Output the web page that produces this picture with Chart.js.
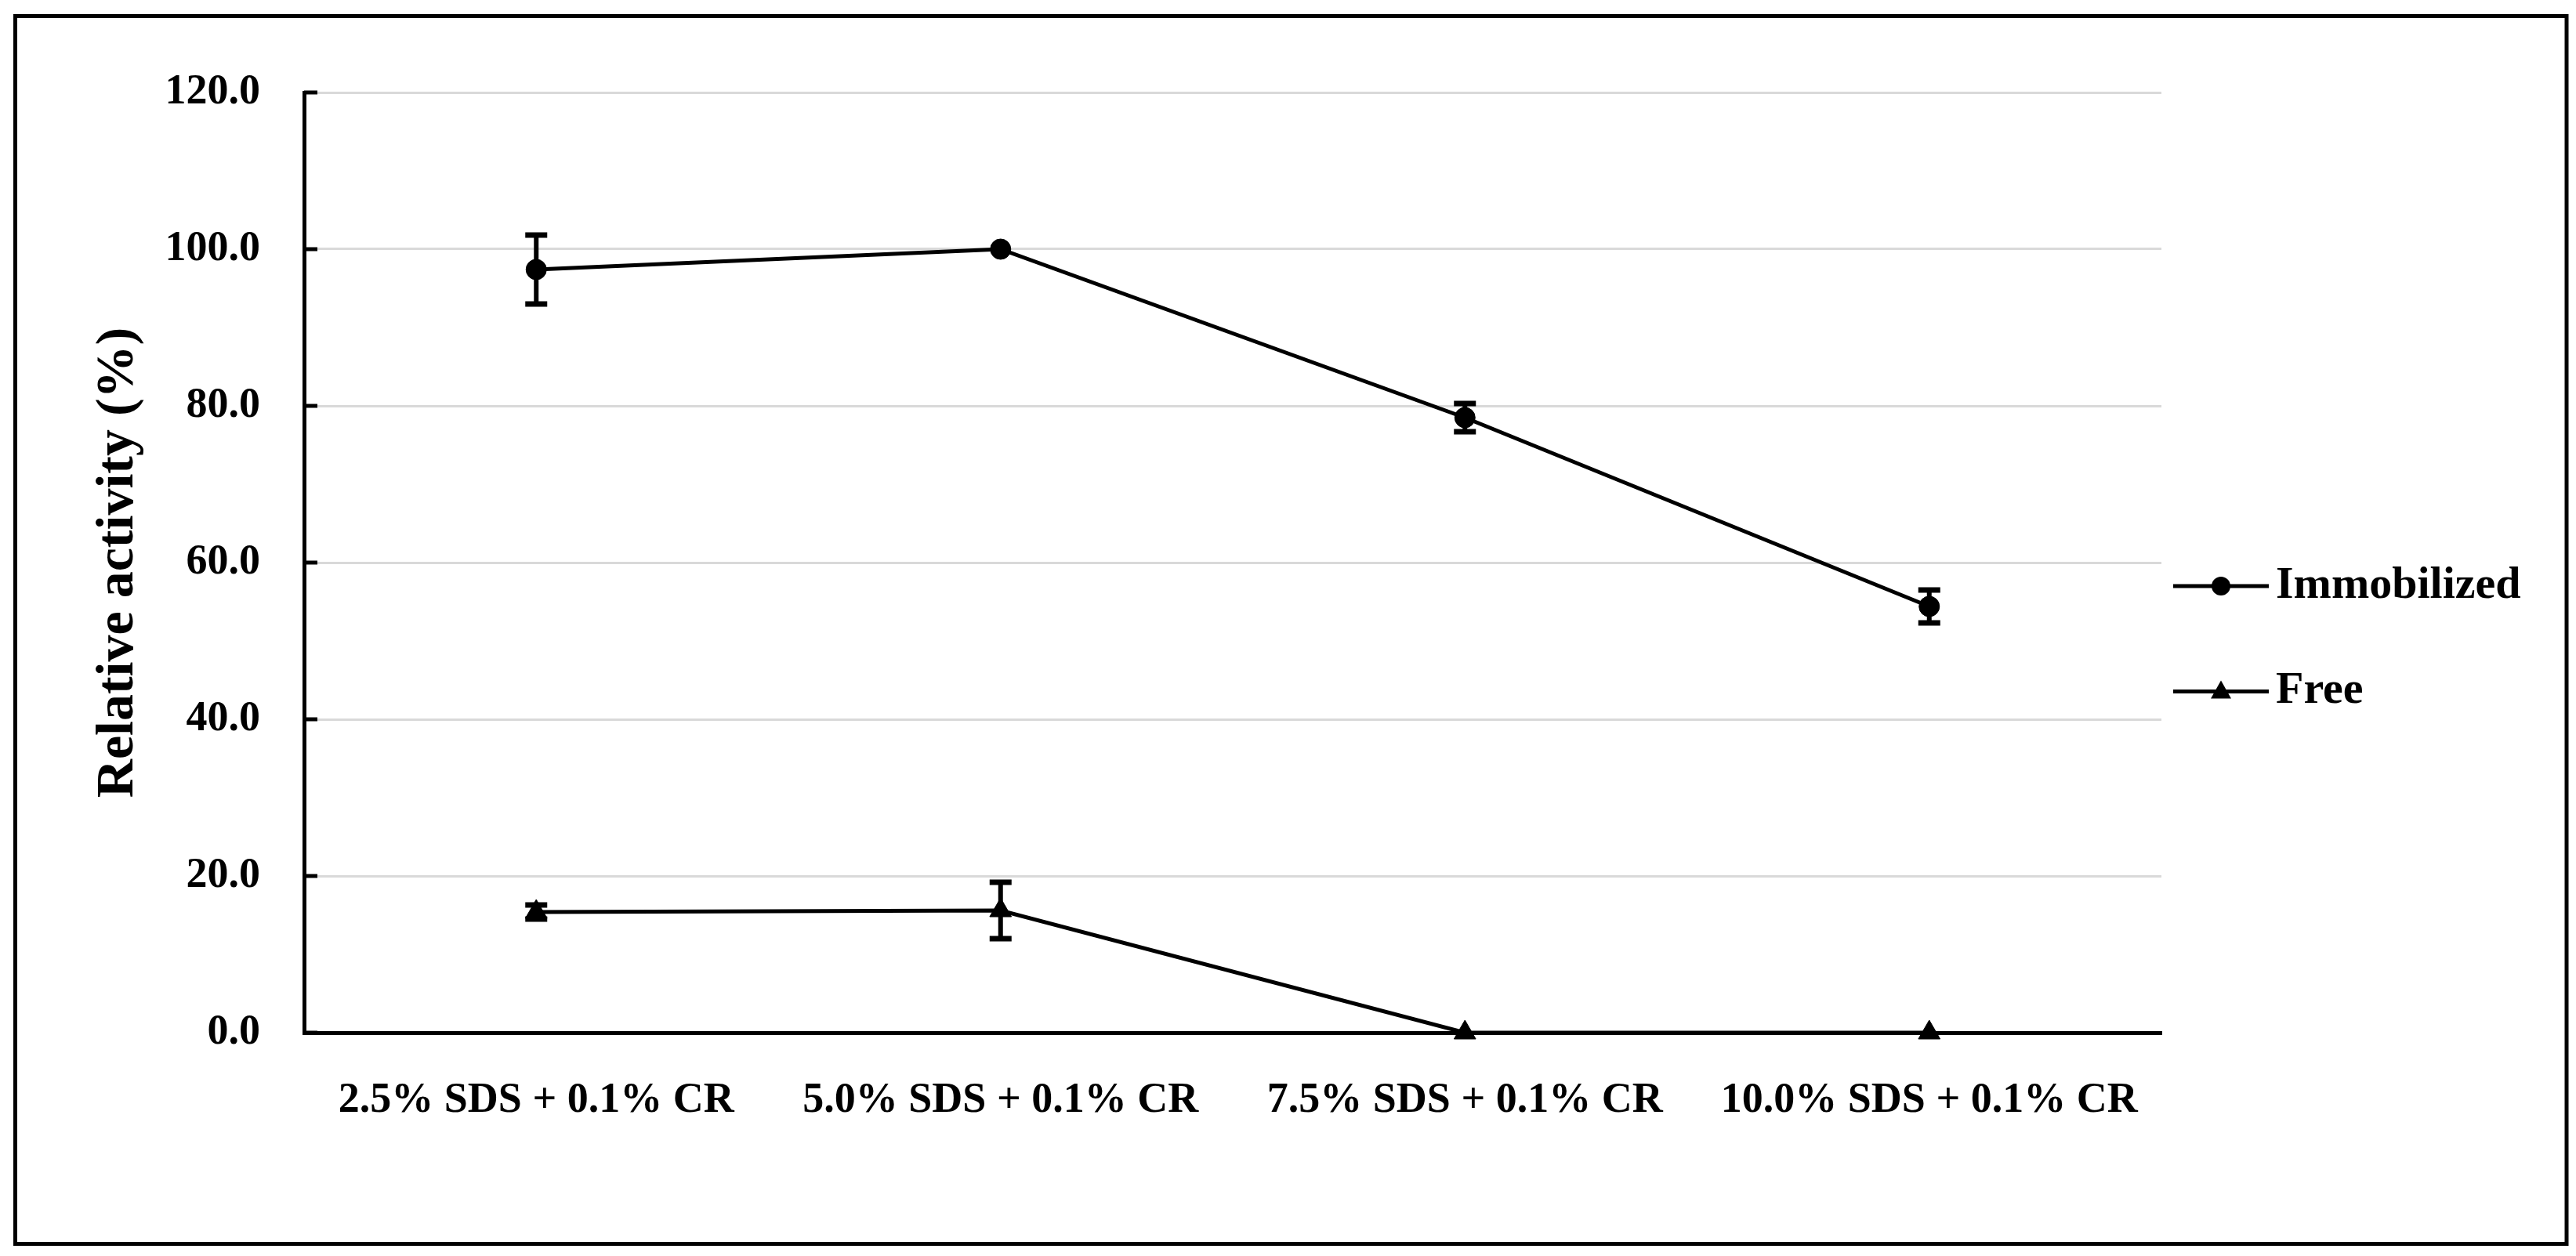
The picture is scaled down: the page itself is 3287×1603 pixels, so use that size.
<!DOCTYPE html>
<html>
<head>
<meta charset="utf-8">
<title>Relative activity</title>
<script src="https://cdn.jsdelivr.net/npm/chart.js@4.4.0/dist/chart.umd.min.js"></script>
<style>
  html, body { margin: 0; padding: 0; background: #fff; }
  canvas { display: block; }
</style>
</head>
<body>
<canvas id="grafico" width="3287" height="1603"></canvas>
<script>
// datos
const categorias = ["2.5% SDS + 0.1% CR", "5.0% SDS + 0.1% CR", "7.5% SDS + 0.1% CR", "10.0% SDS + 0.1% CR"];
const nombresSeries = ["Immobilized", "Free"];
const inmovilizada = [97.4, 100.0, 78.5, 54.4];
const errorInmovilizada = [4.4, 0, 1.8, 2.1];
const libre = [15.4, 15.6, 0.0, 0.0];
const errorLibre = [0.9, 3.6, 0, 0];
const ticksY = [0, 20, 40, 60, 80, 100, 120];
const tituloY = "Relative activity (%)";

const fuente = "'Liberation Serif', 'Times New Roman', serif";

// marco exterior y fondo blanco
const pluginMarco = {
  id: "marco",
  beforeDraw(chart) {
    const ctx = chart.ctx;
    ctx.save();
    ctx.fillStyle = "#fff";
    ctx.fillRect(0, 0, chart.width, chart.height);
    ctx.strokeStyle = "#000";
    ctx.lineWidth = 5;
    ctx.strokeRect(19.5, 20.5, 3255.5, 1567);
    ctx.restore();
  }
};

// marcas cortas hacia dentro en el eje y
const pluginMarcas = {
  id: "marcas",
  beforeDatasetsDraw(chart) {
    const ctx = chart.ctx;
    const y = chart.scales.y;
    const x0 = chart.chartArea.left;
    ctx.save();
    ctx.strokeStyle = "#000";
    ctx.lineWidth = 5;
    ticksY.forEach(v => {
      const py = y.getPixelForValue(v);
      ctx.beginPath();
      ctx.moveTo(x0, py);
      ctx.lineTo(x0 + 17, py);
      ctx.stroke();
    });
    ctx.restore();
  }
};

// barras de error
const pluginErrores = {
  id: "errores",
  afterDatasetsDraw(chart) {
    const ctx = chart.ctx;
    const y = chart.scales.y;
    [errorInmovilizada, errorLibre].forEach((errores, i) => {
      const meta = chart.getDatasetMeta(i);
      const datos = chart.data.datasets[i].data;
      meta.data.forEach((punto, j) => {
        const e = errores[j];
        if (!e) return;
        const yArriba = y.getPixelForValue(datos[j] + e);
        const yAbajo = y.getPixelForValue(datos[j] - e);
        ctx.save();
        ctx.strokeStyle = "#000";
        ctx.lineWidth = 6;
        ctx.beginPath();
        ctx.moveTo(punto.x, yArriba);
        ctx.lineTo(punto.x, yAbajo);
        ctx.stroke();
        ctx.lineWidth = 7;
        ctx.beginPath();
        ctx.moveTo(punto.x - 14, yArriba);
        ctx.lineTo(punto.x + 14, yArriba);
        ctx.moveTo(punto.x - 14, yAbajo);
        ctx.lineTo(punto.x + 14, yAbajo);
        ctx.stroke();
        ctx.restore();
      });
    });
  }
};

// leyenda a la derecha (linea + marcador + texto)
const pluginLeyenda = {
  id: "leyenda",
  afterDraw(chart) {
    const ctx = chart.ctx;
    const area = chart.chartArea;
    const filas = [0.525, 0.637];
    chart.data.datasets.forEach((ds, i) => {
      const yy = area.top + (area.bottom - area.top) * filas[i];
      const x0 = area.right + 15;
      const xm = x0 + 61;
      ctx.save();
      ctx.strokeStyle = "#000";
      ctx.fillStyle = "#000";
      ctx.lineWidth = 5;
      ctx.beginPath();
      ctx.moveTo(x0, yy);
      ctx.lineTo(x0 + 122, yy);
      ctx.stroke();
      ctx.beginPath();
      if (ds.pointStyle === "triangle") {
        ctx.moveTo(xm, yy - 14);
        ctx.lineTo(xm + 13, yy + 9);
        ctx.lineTo(xm - 13, yy + 9);
        ctx.closePath();
      } else {
        ctx.arc(xm, yy, 12, 0, Math.PI * 2);
      }
      ctx.fill();
      ctx.font = "bold 58px " + fuente;
      ctx.textBaseline = "middle";
      ctx.textAlign = "left";
      ctx.fillText(ds.label, x0 + 131, yy);
      ctx.restore();
    });
  }
};

const config = {
  type: "line",
  data: {
    labels: categorias,
    datasets: [
      {
        label: nombresSeries[0],
        data: inmovilizada,
        borderColor: "#000",
        backgroundColor: "#000",
        borderWidth: 5,
        pointStyle: "circle",
        pointRadius: 13,
        pointBorderWidth: 1,
        tension: 0,
        clip: false
      },
      {
        label: nombresSeries[1],
        data: libre,
        borderColor: "#000",
        backgroundColor: "#000",
        borderWidth: 5,
        pointStyle: "triangle",
        pointRadius: 16,
        pointBorderWidth: 1,
        tension: 0,
        clip: false
      }
    ]
  },
  options: {
    responsive: false,
    animation: false,
    devicePixelRatio: 1,
    layout: { padding: { top: 118, right: 529, bottom: 0, left: 0 } },
    plugins: {
      legend: { display: false },
      tooltip: { enabled: false }
    },
    scales: {
      x: {
        offset: true,
        grid: { display: false },
        border: { display: true, color: "#000", width: 5 },
        ticks: {
          color: "#000",
          font: { family: fuente, size: 54, weight: "bold" },
          padding: 47,
          maxRotation: 0,
          autoSkip: false
        },
        afterFit(s) { s.height = 285; }
      },
      y: {
        min: 0,
        max: 120,
        afterBuildTicks(s) { s.ticks = ticksY.map(v => ({ value: v })); },
        ticks: {
          color: "#000",
          font: { family: fuente, size: 54, weight: "bold" },
          padding: 56,
          callback: v => Number(v).toFixed(1)
        },
        grid: {
          color: c => (c.tick && c.tick.value === 0 ? "rgba(0,0,0,0)" : "#d9d9d9"),
          lineWidth: 3,
          drawTicks: false
        },
        border: { display: true, color: "#000", width: 5 },
        title: {
          display: true,
          text: tituloY,
          color: "#000",
          font: { family: fuente, size: 68, weight: "bold" },
          padding: { top: 111, bottom: 0 }
        },
        afterFit(s) { s.width = 388; }
      }
    }
  },
  plugins: [pluginMarco, pluginMarcas, pluginErrores, pluginLeyenda]
};

new Chart(document.getElementById("grafico"), config);
</script>
</body>
</html>
